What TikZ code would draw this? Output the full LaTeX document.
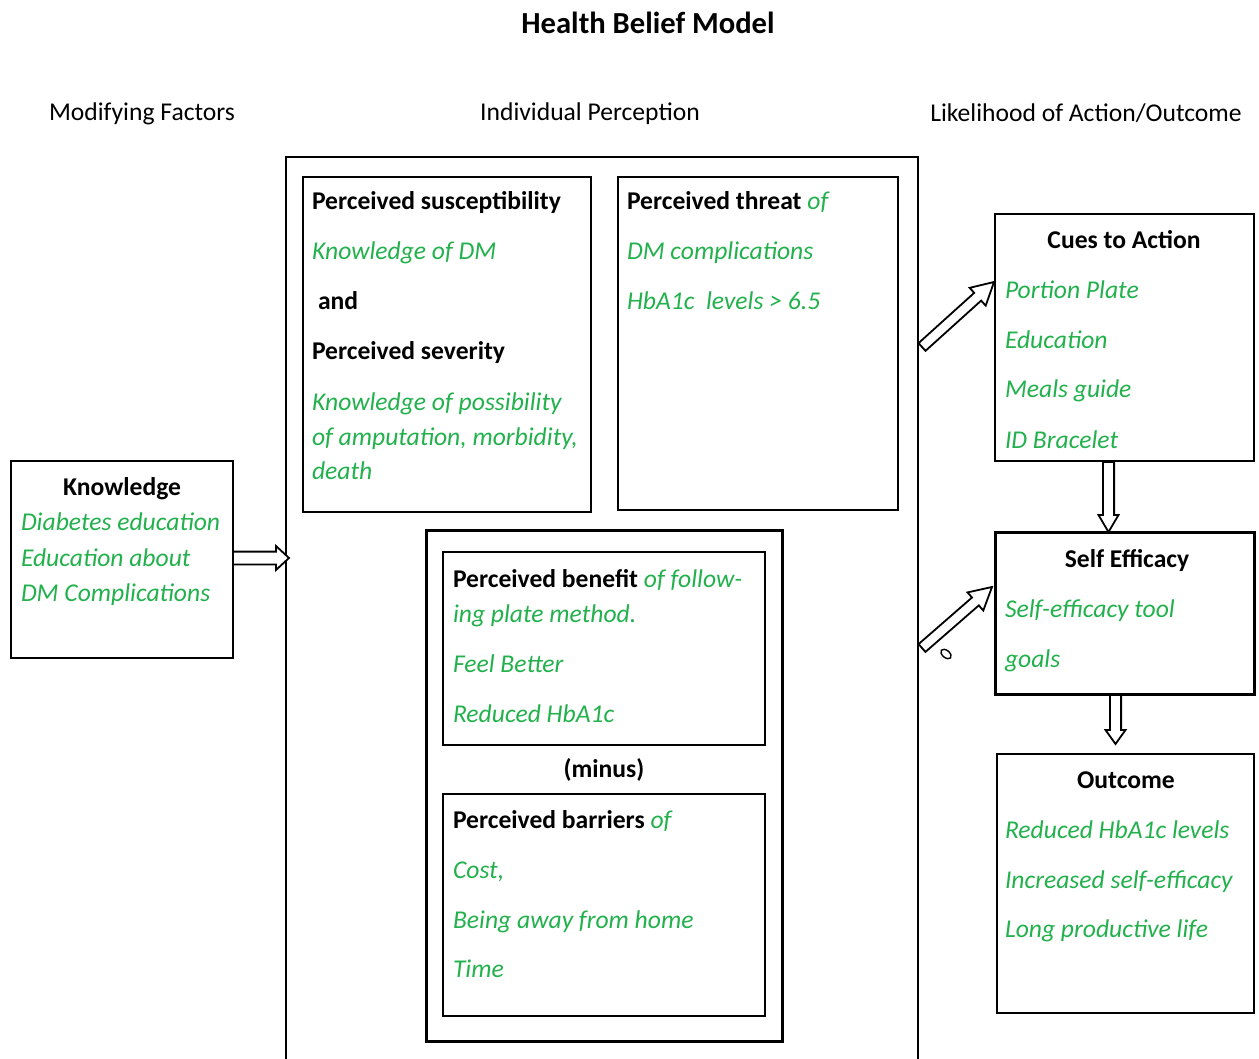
\documentclass[tikz,border=0pt]{standalone}
\usepackage{fontspec}
\setmainfont{Carlito}
\usetikzlibrary{calc,shapes.geometric}
\definecolor{hbgreen}{RGB}{34,177,76}
\newcommand\gi[1]{{\color{hbgreen}\mdseries\itshape #1}}
\newcommand\hbbox[6]{\node[draw, inner sep=0pt, outer sep=0pt, anchor=north west,
  minimum width={(#4-#2)*0.5pt}, minimum height={(#5-#3)*0.5pt}, #6] (#1) at (#2,#3) {};}
% block arrow: from, to, shaft half width, head half width, head length
\newcommand\blockarrow[5]{%
  \coordinate (hb) at ($(#2)!#5!(#1)$);
  \draw[arrowline] ($(#1)!#3!90:(#2)$) -- ($(hb)!#3!90:(#2)$) -- ($(hb)!#4!90:(#2)$)
    -- (#2) -- ($(hb)!#4!-90:(#2)$) -- ($(hb)!#3!-90:(#2)$) -- ($(#1)!#3!-90:(#2)$) -- cycle;}
\begin{document}
\begin{tikzpicture}[x=0.5pt,y=-0.5pt,
  lbl/.style={inner sep=0pt, outer sep=0pt, font=\fontsize{12.8}{16}\selectfont},
  lw/.style={lbl, anchor=base west},
  lc/.style={lbl, anchor=base},
  bf/.style={font=\fontsize{12.8}{16}\selectfont\bfseries},
  grn/.style={text=hbgreen, font=\fontsize{12.8}{16}\selectfont\itshape},
  thin/.style={line width=0.9pt},
  med/.style={line width=1.1pt},
  thick/.style={line width=1.4pt},
  arrowline/.style={line width=0.9pt, line join=miter, fill=white}]
\clip (0,0) rectangle (1259,1059);
\fill[white] (0,0) rectangle (1259,1059);

% headings
\node[lc, font=\fontsize{15.3}{18}\selectfont\bfseries] (title) at (648,34) {Health Belief Model};
\node[lc] (hmod) at (142,121) {Modifying Factors};
\node[lc] (hind) at (590,121) {Individual Perception};
\node[lc] (hlik) at (1086,122) {Likelihood of Action/Outcome};

% boxes
\hbbox{outer}{286}{157}{918}{1080}{thin}
\hbbox{susc}{303}{177}{591}{512}{thick}
\hbbox{threat}{618}{177}{898}{510}{thick}
\hbbox{mid}{426}{530}{782}{1041}{line width=1.5pt}
\hbbox{benefit}{443}{552}{765}{745}{med}
\hbbox{barrier}{443}{794}{765}{1016}{med}
\hbbox{know}{11}{461}{233}{658}{thick}
\hbbox{cues}{995}{214}{1254}{461}{thick}
\hbbox{selfeff}{995}{532}{1254}{694}{line width=1.5pt}
\hbbox{outcome}{997}{754}{1254}{1013}{thick}

% susceptibility
\node[lw, bf] (s1) at (312,210) {Perceived susceptibility};
\node[lw, grn] (s2) at (312,260) {Knowledge of DM};
\node[lw, bf] (s3) at (318,310) {and};
\node[lw, bf] (s4) at (312,360) {Perceived severity};
\node[lw, grn] (s5) at (312,410) {Knowledge of possibility};
\node[lw, grn] (s6) at (312,445) {of amputation, morbidity,};
\node[lw, grn] (s7) at (312,480) {death};

% threat
\node[lw, bf] (t1) at (627,210) {Perceived threat \gi{of}};
\node[lw, grn] (t2) at (627,260) {DM complications};
\node[lw, grn] (t3) at (627,310) {HbA1c\ \ levels > 6.5};

% benefit
\node[lw, bf] (b1) at (453,587) {Perceived benefit \gi{of follow-}};
\node[lw, grn] (b2) at (453,622) {ing plate method.};
\node[lw, grn] (b3) at (453,672) {Feel Better};
\node[lw, grn] (b4) at (453,722) {Reduced HbA1c};
\node[lc, bf] (minus) at (604,777) {(minus)};

% barriers
\node[lw, bf] (r1) at (453,828) {Perceived barriers \gi{of}};
\node[lw, grn] (r2) at (453,878) {Cost,};
\node[lw, grn] (r3) at (453,928) {Being away from home};
\node[lw, grn] (r4) at (453,977) {Time};

% knowledge
\node[lc, bf] (k1) at (122,495) {Knowledge};
\node[lw, grn] (k2) at (21,530) {Diabetes education};
\node[lw, grn] (k3) at (21,566) {Education about};
\node[lw, grn] (k4) at (21,601) {DM Complications};

% cues
\node[lc, bf] (c1) at (1124,249) {Cues to Action};
\node[lw, grn] (c2) at (1005,299) {Portion Plate};
\node[lw, grn] (c3) at (1005,349) {Education};
\node[lw, grn] (c4) at (1005,398) {Meals guide};
\node[lw, grn] (c5) at (1005,448) {ID Bracelet};

% self efficacy
\node[lc, bf] (e1) at (1127,567) {Self Efficacy};
\node[lw, grn] (e2) at (1005,617) {Self-efficacy tool};
\node[lw, grn] (e3) at (1005,667) {goals};

% outcome
\node[lc, bf] (o1) at (1126,788) {Outcome};
\node[lw, grn] (o2) at (1005,838) {Reduced HbA1c levels};
\node[lw, grn] (o3) at (1005,888) {Increased self-efficacy};
\node[lw, grn] (o4) at (1005,937) {Long productive life};

% arrow end points
\coordinate (ka) at (know.east |- 0,558);
\coordinate (kb) at (289,558);
\coordinate (ca) at (1108.5,462);
\coordinate (cb) at (1108.5,532);
\coordinate (ea) at (1115.5,695);
\coordinate (eb) at (1115.5,744);
\coordinate (d1a) at (922,347);
\coordinate (d1b) at (994,282);
\coordinate (d2a) at (922,648);
\coordinate (d2b) at (992,587);

\blockarrow{ka}{kb}{3.2pt}{6pt}{6.5pt}
\blockarrow{ca}{cb}{2.8pt}{5pt}{8.5pt}
\blockarrow{ea}{eb}{2.8pt}{5pt}{7pt}
\blockarrow{d1a}{d1b}{2.6pt}{6pt}{11pt}
\blockarrow{d2a}{d2b}{2.6pt}{6pt}{11pt}

\node[draw, ellipse, line width=0.7pt, inner sep=0pt, minimum width=6pt, minimum height=3.6pt, rotate=-40] (blob) at (946,654) {};
\end{tikzpicture}
\end{document}
